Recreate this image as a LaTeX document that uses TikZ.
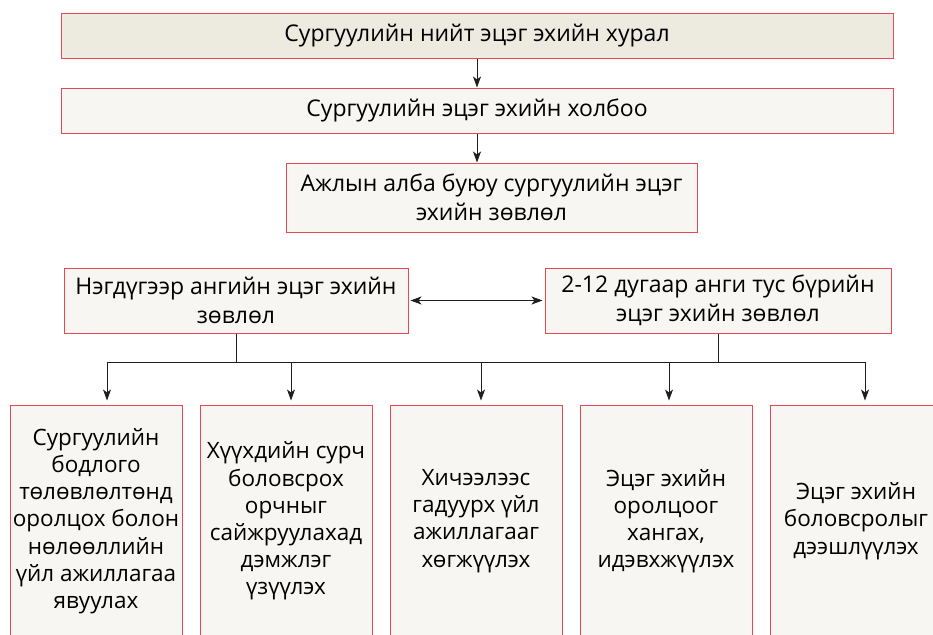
\documentclass[tikz,border=0pt]{standalone}
\usepackage{fontspec}
\setmainfont{Open Sans}
\usetikzlibrary{arrows,arrows.meta,positioning}
\definecolor{boxred}{RGB}{232,72,84}
\definecolor{paper}{RGB}{247,246,242}
\definecolor{paperdark}{RGB}{237,234,224}
\definecolor{wire}{RGB}{30,30,30}
\tikzset{
  orgbox/.style={draw=boxred, fill=paper, line width=1pt, align=center, inner sep=2pt,
    font=\fontsize{23}{29}\selectfont},
  taskbox/.style={draw=boxred, fill=paper, line width=1pt, align=center, inner sep=1pt,
    minimum width=172, minimum height=232, font=\fontsize{22.5}{27.2}\selectfont},
}

\begin{document}
\begin{tikzpicture}[x=1pt,y=1pt,->,>={Stealth[length=11pt,width=8pt,inset=3pt]},auto,draw=wire,line width=0.8pt]
            \useasboundingbox (0,0) rectangle (933,-634);

            \node[orgbox, fill=paperdark, minimum width=832, minimum height=44] (Hural) at (477,-36) {Сургуулийн нийт эцэг эхийн хурал};
            \node[orgbox, minimum width=832, minimum height=45] (Holboo) [below of=Hural, node distance=74.5pt] {Сургуулийн эцэг эхийн холбоо};
            \node[orgbox, minimum width=411, minimum height=69] (Zovlol) [below of=Holboo, node distance=87pt, xshift=14.5pt] {Ажлын алба буюу сургуулийн эцэг\\эхийн зөвлөл};

            \node[orgbox, minimum width=344, minimum height=65] (Negdugeer) [below of=Zovlol, node distance=103pt, xshift=-255.5pt] {Нэгдүгээр ангийн эцэг эхийн\\зөвлөл};
            \node[orgbox, minimum width=346, minimum height=65] (Busad) [right of=Negdugeer, node distance=482pt] {2-12 дугаар анги тус бүрийн\\эцэг эхийн зөвлөл};

            \node[taskbox] (T1) at (96,-521) {Сургуулийн\\бодлого\\төлөвлөлтөнд\\оролцох болон\\нөлөөллийн\\үйл ажиллагаа\\явуулах};
            \node[taskbox] (T2) [right of=T1, node distance=190pt] {Хүүхдийн сурч\\боловсрох\\орчныг\\сайжруулахад\\дэмжлэг\\үзүүлэх};
            \node[taskbox] (T3) [right of=T2, node distance=190pt] {Хичээлээс\\гадуурх үйл\\ажиллагааг\\хөгжүүлэх};
            \node[taskbox] (T4) [right of=T3, node distance=190pt] {Эцэг эхийн\\оролцоог\\хангах,\\идэвхжүүлэх};
            \node[taskbox] (T5) [right of=T4, node distance=190pt] {Эцэг эхийн\\боловсролыг\\дээшлүүлэх};

            \coordinate (bus) at (0,-362);

            \path (Hural)  edge (Holboo)
            (Holboo.south) edge (Holboo.south |- Zovlol.north)
            (Negdugeer)    edge [<->, shorten <=2pt, shorten >=2pt] (Busad);

            \draw[-] (Negdugeer.south) -- (Negdugeer.south |- bus);
            \draw[-] (Busad.south) -- (Busad.south |- bus);
            \draw[-] ([xshift=11pt]T1.north |- bus) -- ([xshift=9pt]T5.north |- bus);
            \foreach \i/\dx in {1/11,2/5,3/5,4/3,5/9}
              \draw[shorten >=4pt] ([xshift=\dx pt]T\i.north |- bus) -- ([xshift=\dx pt]T\i.north);
        \end{tikzpicture}
\end{document}
